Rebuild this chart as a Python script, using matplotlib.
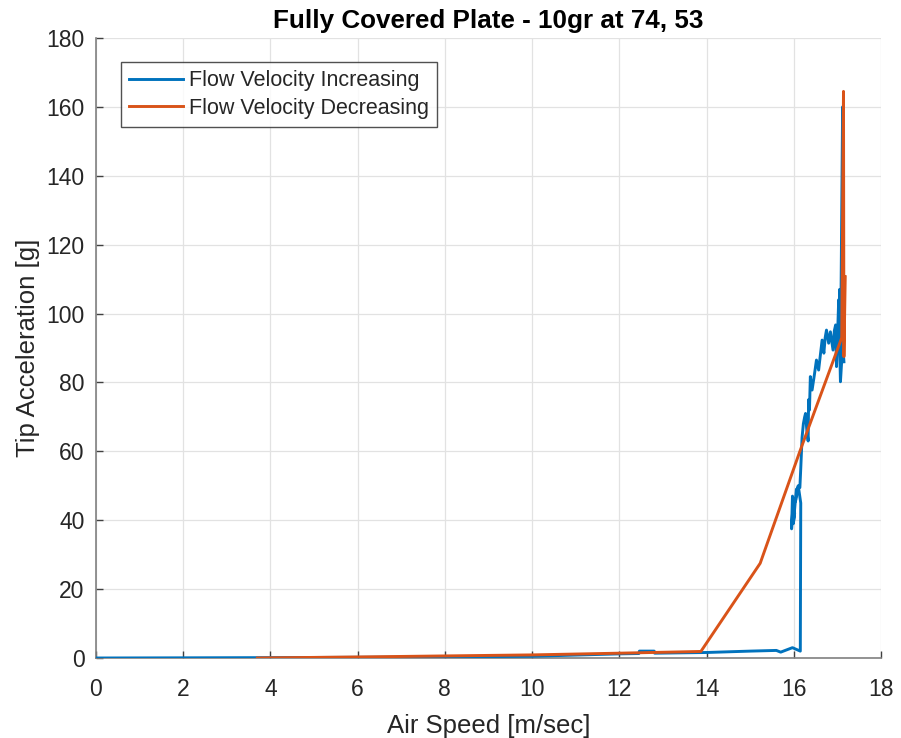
import matplotlib

matplotlib.use("Agg")
import matplotlib.pyplot as plt
import numpy as np

# ---- data ----
# flow velocity increasing (blue)
inc_speed = [
    0.0, 2.0, 3.7, 6.0, 8.0, 10.0, 12.0, 12.45, 12.46, 12.8, 12.81, 14.0,
    15.0, 15.6, 15.7, 15.97, 16.15,
    16.16, 16.12, 16.10, 16.05, 15.98, 15.95, 15.97, 16.02, 15.99, 16.06,
    16.14, 16.16, 16.19, 16.22, 16.25, 16.27, 16.30, 16.33, 16.34, 16.36,
    16.38, 16.42, 16.47, 16.52, 16.57, 16.61, 16.65, 16.69, 16.72, 16.75,
    16.80, 16.84, 16.90, 16.93, 16.96, 16.98, 17.00, 17.03, 17.07, 17.10,
    17.05, 17.08, 17.12, 17.13, 17.15,
]
inc_accel = [
    0.0, 0.05, 0.1, 0.2, 0.3, 0.5, 1.2, 1.3, 2.0, 2.0, 1.4, 1.6,
    2.0, 2.2, 1.7, 3.0, 2.0,
    45.0, 48.5, 50.0, 46.0, 44.0, 37.5, 47.0, 42.0, 39.0, 49.0,
    49.5, 55.0, 64.0, 68.0, 70.0, 71.0, 66.0, 63.0, 75.0, 72.0,
    81.7, 77.8, 82.0, 86.5, 83.6, 88.0, 92.3, 88.5, 93.0, 95.2,
    91.4, 94.7, 89.4, 95.0, 96.7, 84.6, 92.0, 104.0, 80.2, 86.5,
    107.0, 100.0, 160.0, 90.0, 86.0,
]

# flow velocity decreasing (red)
dec_speed = [17.18, 17.15, 17.14, 17.10, 16.14, 15.23, 13.87, 12.0, 10.0,
             8.0, 6.0, 3.7]
dec_accel = [110.7, 87.5, 164.5, 93.0, 60.0, 27.5, 1.9, 1.4, 0.9,
             0.6, 0.3, 0.0]

x_ticks = np.arange(0, 19, 2)
y_ticks = np.arange(0, 181, 20)

plt.rcParams["font.family"] = ["Liberation Sans", "DejaVu Sans"]

fig = plt.figure(figsize=(9.01, 7.38), dpi=100)
ax = fig.add_axes([0.1065, 0.1084, 0.8713, 0.8401])

ax.plot(inc_speed, inc_accel, color="#0072BD", lw=2.1,
        label="Flow Velocity Increasing", zorder=3)
ax.plot(dec_speed, dec_accel, color="#D95319", lw=2.1,
        label="Flow Velocity Decreasing", zorder=4)

ax.set_xlim(0, 18)
ax.set_ylim(0, 180)
ax.set_xticks(x_ticks)
ax.set_yticks(y_ticks)
ax.grid(True, color="#e2e2e2", lw=0.9)
ax.set_axisbelow(True)

for side in ("top", "right"):
    ax.spines[side].set_visible(False)
for side in ("left", "bottom"):
    ax.spines[side].set_color("#808080")
    ax.spines[side].set_linewidth(1.2)
ax.tick_params(direction="in", length=5, width=1, color="#404040",
               labelcolor="#262626", labelsize=16.5)
ax.tick_params(axis="x", pad=14.5)
ax.tick_params(axis="y", pad=8.2)

ax.set_xlabel("Air Speed [m/sec]", fontsize=18.5, color="#262626", labelpad=9.5)
ax.set_ylabel("Tip Acceleration [g]", fontsize=18.5, color="#262626",
              labelpad=4.5)
ax.set_title("Fully Covered Plate - 10gr at 74, 53", fontsize=18.7,
             fontweight="bold", color="#000000", pad=7)

leg = ax.legend(loc="upper left", bbox_to_anchor=(0.0315, 0.9618),
                borderaxespad=0.0, fontsize=15.5,
                frameon=True, fancybox=False, handlelength=2.5,
                borderpad=0.39, labelspacing=0.3, handletextpad=0.28)
leg.get_frame().set_edgecolor("#262626")
leg.get_frame().set_linewidth(1.0)
for t in leg.get_texts():
    t.set_color("#262626")

fig.savefig("out.png", dpi=100)
